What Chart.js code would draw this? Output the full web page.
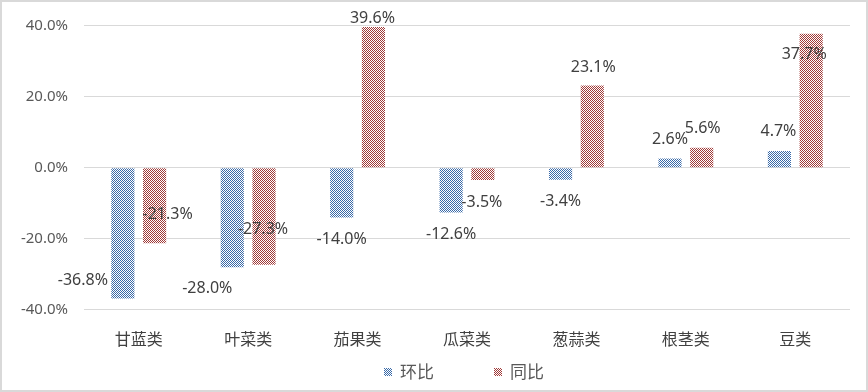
<!DOCTYPE html>
<html>
<head>
<meta charset="utf-8">
<script src="https://cdn.jsdelivr.net/npm/chart.js@4.4.0/dist/chart.umd.min.js"></script>
<style>
  html, body { margin: 0; padding: 0; background: #fff; }
  #wrap { width: 864px; height: 388px; border: 2px solid #d9d9d9; position: relative; }
</style>
</head>
<body>
<div id="wrap"><canvas id="chart" width="864" height="388"></canvas></div>
<script>
// data
var categories = ['甘蓝类', '叶菜类', '茄果类', '瓜菜类', '葱蒜类', '根茎类', '豆类'];
var seriesNames = ['环比', '同比'];
var huanbi = [-36.8, -28.0, -14.0, -12.6, -3.4, 2.6, 4.7];
var tongbi = [-21.3, -27.3, 39.6, -3.5, 23.1, 5.6, 37.7];
var yTicks = [-40, -20, 0, 20, 40];

// label nudges (px) relative to bar end, like excel placed them
var huanbiNudge = [[-40, -18], [-25, 21], [0, 22], [0, 22], [0, 22], [0, -19], [-1, -20]];
var tongbiNudge = [[13, -29], [-1, -35], [-1, -8], [-1, 22], [1, -18], [1, -19], [-7, 21]];

function makePattern(color) {
    var c = document.createElement('canvas');
    c.width = 4; c.height = 4;
    var g = c.getContext('2d');
    g.fillStyle = '#ffffff';
    g.fillRect(0, 0, 4, 4);
    g.fillStyle = color;
    for (var y = 0; y < 4; y++) {
        for (var x = 0; x < 4; x++) {
            if ((x + y) % 2 == 0) g.fillRect(x, y, 1, 1);
        }
    }
    return document.getElementById('chart').getContext('2d').createPattern(c, 'repeat');
}

var bluePat = makePattern('#3a6aa8');
var redPat = makePattern('#a03a38');

var labelPlugin = {
    id: 'barLabels',
    afterDatasetsDraw: function (chart) {
        var ctx = chart.ctx;
        var nudges = [huanbiNudge, tongbiNudge];
        ctx.save();
        ctx.font = '16px "Noto Sans", "DejaVu Sans", sans-serif';
        ctx.fillStyle = '#404040';
        ctx.textAlign = 'center';
        ctx.textBaseline = 'middle';
        chart.data.datasets.forEach(function (ds, di) {
            chart.getDatasetMeta(di).data.forEach(function (bar, i) {
                var n = nudges[di][i];
                ctx.fillText(ds.data[i].toFixed(1) + '%', bar.x + n[0], bar.y + n[1]);
            });
        });
        ctx.restore();
    }
};

// legend drawn by hand so the spacing can be wide without eating chart height
var legendPlugin = {
    id: 'wideLegend',
    afterDraw: function (chart) {
        var ctx = chart.ctx;
        var gap = 60;
        ctx.save();
        ctx.font = '17px "Noto Sans CJK SC", sans-serif';
        ctx.textBaseline = 'middle';
        var widths = chart.data.datasets.map(function (ds) {
            return 16 + ctx.measureText(ds.label).width;
        });
        var total = widths.reduce(function (a, b) { return a + b; }, 0) + gap * (widths.length - 1);
        var x = (chart.width - total) / 2 + 30;
        var y = chart.height - 18;
        chart.data.datasets.forEach(function (ds, i) {
            ctx.fillStyle = ds.backgroundColor;
            ctx.fillRect(x, y - 4, 8, 8);
            ctx.fillStyle = '#595959';
            ctx.fillText(ds.label, x + 16, y);
            x += widths[i] + gap;
        });
        ctx.restore();
    }
};

new Chart(document.getElementById('chart'), {
    type: 'bar',
    data: {
        labels: categories,
        datasets: [
            { label: seriesNames[0], data: huanbi, backgroundColor: bluePat, borderWidth: 0 },
            { label: seriesNames[1], data: tongbi, backgroundColor: redPat, borderWidth: 0 }
        ]
    },
    options: {
        responsive: false,
        animation: false,
        devicePixelRatio: 1,
        categoryPercentage: 0.58,
        barPercentage: 0.73,
        layout: { padding: { left: 0, right: 16, top: 0, bottom: 29 } },
        plugins: {
            legend: { display: false },
            tooltip: { enabled: false }
        },
        scales: {
            x: {
                grid: { display: false },
                border: { display: false },
                ticks: {
                    color: '#404040',
                    padding: 12,
                    font: { size: 16, family: '"Noto Sans CJK SC", sans-serif' }
                }
            },
            y: {
                min: yTicks[0],
                max: yTicks[yTicks.length - 1],
                afterBuildTicks: function (axis) {
                    axis.ticks = yTicks.map(function (v) { return { value: v }; });
                },
                afterFit: function (axis) { axis.width = 82; },
                grid: { color: '#d9d9d9', drawTicks: false },
                border: { display: false },
                ticks: {
                    color: '#595959',
                    padding: 16,
                    font: { size: 15, lineHeight: 1.0, family: '"Noto Sans", "DejaVu Sans", sans-serif' },
                    callback: function (v) { return v.toFixed(1) + '%'; }
                }
            }
        }
    },
    plugins: [labelPlugin, legendPlugin]
});
</script>
</body>
</html>
